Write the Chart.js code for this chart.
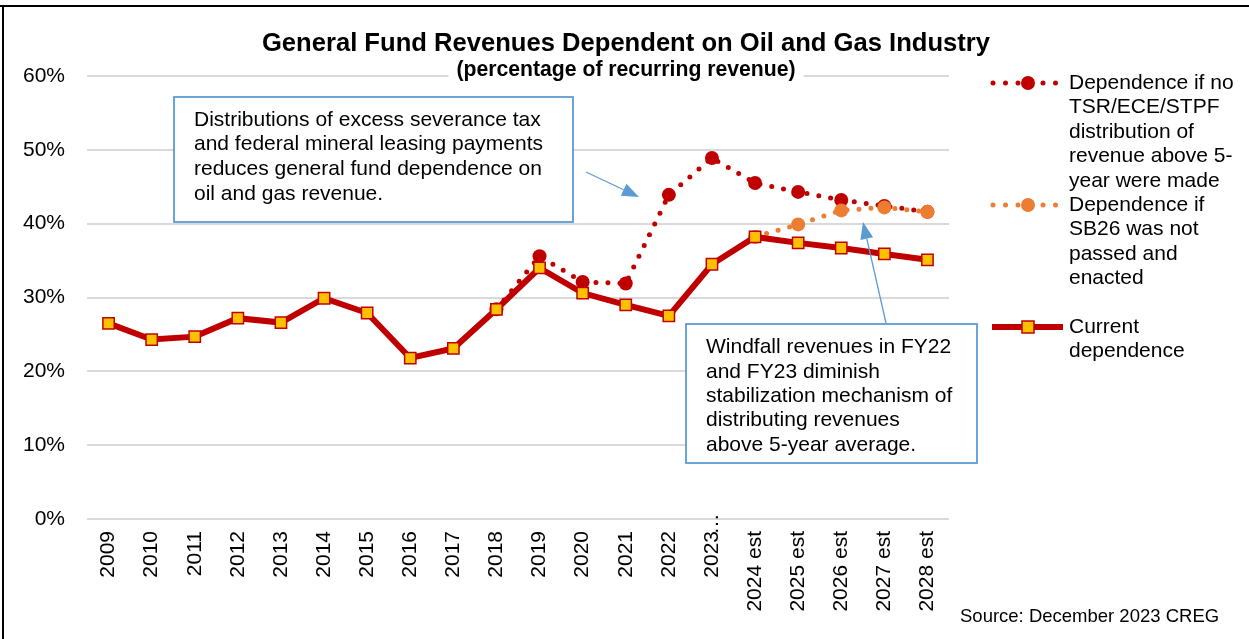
<!DOCTYPE html>
<html><head><meta charset="utf-8">
<script src="https://cdn.jsdelivr.net/npm/chart.js@4/dist/chart.umd.min.js"></script>
<style>html,body{margin:0;padding:0;background:#fff;}canvas{display:block;}</style>
</head><body>
<canvas id="c" width="1249" height="639"></canvas>
<script>
const categories = ['2009','2010','2011','2012','2013','2014','2015','2016','2017','2018','2019','2020','2021','2022','2023…','2024 est','2025 est','2026 est','2027 est','2028 est'];
const currentDependence = [26.5,24.3,24.7,27.2,26.6,29.9,27.9,21.8,23.1,28.4,34.0,30.6,29.0,27.5,34.5,38.2,37.4,36.7,35.9,35.1];
const noDistribution = [null,null,null,null,null,null,null,null,null,28.4,35.6,32.1,31.9,43.9,48.9,45.5,44.3,43.2,42.4,41.6];
const noSB26 = [null,null,null,null,null,null,null,null,null,null,null,null,null,null,null,38.2,39.9,41.8,42.2,41.6];
const yTickLabels = ['0%','10%','20%','30%','40%','50%','60%'];

const titleText = 'General Fund Revenues Dependent on Oil and Gas Industry';
const subtitleText = '(percentage of recurring revenue)';
const legendNoDist = ['Dependence if no','TSR/ECE/STPF','distribution of','revenue above 5-','year were made'];
const legendNoSB26 = ['Dependence if','SB26 was not','passed and','enacted'];
const legendCurrent = ['Current','dependence'];
const note1 = ['Distributions of excess severance tax','and federal mineral leasing payments','reduces general fund dependence on','oil and gas revenue.'];
const note2 = ['Windfall revenues in FY22','and FY23 diminish','stabilization mechanism of','distributing revenues','above 5-year average.'];
const sourceText = 'Source: December 2023 CREG';

const FONT = '"Liberation Sans", Arial, sans-serif';
const DARK = '#c00000', ORANGE = '#ed7d31', GOLD = '#ffc000', BLUE = '#5b9bd5';

function arrow(ctx, x1, y1, x2, y2) {
  const dx = x2 - x1, dy = y2 - y1, L = Math.hypot(dx, dy);
  const ux = dx / L, uy = dy / L, hl = 17, hw = 6.5;
  const bx = x2 - ux * hl, by = y2 - uy * hl;
  ctx.strokeStyle = BLUE; ctx.lineWidth = 1.3; ctx.setLineDash([]);
  ctx.beginPath(); ctx.moveTo(x1, y1); ctx.lineTo(bx, by); ctx.stroke();
  ctx.fillStyle = BLUE;
  ctx.beginPath(); ctx.moveTo(x2, y2);
  ctx.lineTo(bx - uy * hw, by + ux * hw); ctx.lineTo(bx + uy * hw, by - ux * hw);
  ctx.closePath(); ctx.fill();
}
function note(ctx, x, y, w, h, lines, tx, ty, lh) {
  ctx.fillStyle = '#fff'; ctx.fillRect(x, y, w, h);
  ctx.strokeStyle = BLUE; ctx.lineWidth = 1.8; ctx.setLineDash([]);
  ctx.strokeRect(x, y, w, h);
  ctx.fillStyle = '#000'; ctx.font = '21px ' + FONT; ctx.textAlign = 'left'; ctx.textBaseline = 'middle';
  lines.forEach((t, i) => ctx.fillText(t, tx, ty + i * lh));
}

const decor = {
  id: 'decor',
  afterDraw(chart) {
    const ctx = chart.ctx;
    ctx.save();
    ctx.fillStyle = '#000';
    ctx.fillRect(0, 5, 1249, 2);
    ctx.fillRect(2, 5, 2, 634);
    // title
    ctx.textAlign = 'center'; ctx.textBaseline = 'alphabetic';
    ctx.font = 'bold 25.6px ' + FONT;
    ctx.fillText(titleText, 626, 51);
    ctx.font = 'bold 21.2px ' + FONT;
    const sw = ctx.measureText(subtitleText).width;
    ctx.fillStyle = '#fff'; ctx.fillRect(626 - sw / 2 - 8, 62, sw + 16, 22);
    ctx.fillStyle = '#000'; ctx.fillText(subtitleText, 626, 76);
    // truncated-label ellipsis that overlaps the axis, as in the source
    const xs = chart.scales.x;
    categories.forEach((c, i) => {
      if (c.endsWith('…')) {
        const tx = xs.getPixelForValue(i);
        ctx.save();
        ctx.translate(tx, 524);
        ctx.rotate(-Math.PI / 2);
        ctx.font = '21px ' + FONT; ctx.textAlign = 'center'; ctx.textBaseline = 'middle';
        ctx.fillStyle = '#000';
        ctx.fillText('…', 0, 0);
        ctx.restore();
      }
    });
    // notes
    note(ctx, 174, 97, 399, 125, note1, 194, 120, 24.6);
    note(ctx, 686, 324, 291, 139, note2, 706, 347.5, 24.4);
    arrow(ctx, 586, 172, 639, 197);
    arrow(ctx, 886, 323, 863, 222);
    // legend
    ctx.lineCap = 'round';
    [[DARK, 83], [ORANGE, 205]].forEach(([col, y]) => {
      ctx.strokeStyle = col; ctx.lineWidth = 5; ctx.setLineDash([0, 12.5]);
      ctx.beginPath(); ctx.moveTo(993, y); ctx.lineTo(1058, y); ctx.stroke();
      ctx.setLineDash([]); ctx.fillStyle = col;
      ctx.beginPath(); ctx.arc(1028, y, 7, 0, Math.PI * 2); ctx.fill();
    });
    ctx.lineCap = 'butt';
    ctx.strokeStyle = DARK; ctx.lineWidth = 6; ctx.setLineDash([]);
    ctx.beginPath(); ctx.moveTo(992, 327); ctx.lineTo(1063, 327); ctx.stroke();
    ctx.fillStyle = GOLD; ctx.fillRect(1022, 321, 12, 12);
    ctx.strokeStyle = DARK; ctx.lineWidth = 1.5; ctx.strokeRect(1022, 321, 12, 12);
    ctx.fillStyle = '#000'; ctx.font = '21px ' + FONT; ctx.textAlign = 'left'; ctx.textBaseline = 'middle';
    legendNoDist.forEach((t, i) => ctx.fillText(t, 1069, 83 + i * 24.5));
    legendNoSB26.forEach((t, i) => ctx.fillText(t, 1069, 205 + i * 24.5));
    legendCurrent.forEach((t, i) => ctx.fillText(t, 1069, 327 + i * 24.5));
    // source
    ctx.font = '18.5px ' + FONT;
    ctx.fillText(sourceText, 960, 617);
    ctx.restore();
  }
};

new Chart(document.getElementById('c'), {
  type: 'line',
  data: {
    labels: categories,
    datasets: [
      { label: legendCurrent.join(' '), data: currentDependence, borderColor: DARK, borderWidth: 6,
        pointStyle: 'rect', pointRadius: 8, pointBackgroundColor: GOLD, pointBorderColor: DARK, pointBorderWidth: 1.5,
        tension: 0, order: 0 },
      { label: legendNoSB26.join(' '), data: noSB26, borderColor: ORANGE, borderWidth: 5, borderDash: [0, 12], borderCapStyle: 'round',
        pointRadius: 7, pointBackgroundColor: ORANGE, pointBorderColor: ORANGE, pointBorderWidth: 0, tension: 0, order: 1 },
      { label: legendNoDist.join(' '), data: noDistribution, borderColor: DARK, borderWidth: 5, borderDash: [0, 12], borderCapStyle: 'round',
        pointRadius: 7, pointBackgroundColor: DARK, pointBorderColor: DARK, pointBorderWidth: 0, tension: 0, order: 2 }
    ]
  },
  options: {
    responsive: false, animation: false, devicePixelRatio: 1,
    layout: { padding: { top: 76, right: 300, bottom: 0, left: 0 } },
    plugins: { legend: { display: false }, title: { display: false }, tooltip: { enabled: false } },
    scales: {
      x: {
        offset: true,
        grid: { display: false, drawTicks: false }, border: { display: false },
        ticks: { color: '#000', font: { size: 21, family: FONT }, minRotation: 90, maxRotation: 90, autoSkip: false, padding: 12,
          callback: function (v) { return this.getLabelForValue(v).replace('…', ''); } },
        afterFit(s) { s.height = 120; }
      },
      y: {
        min: 0, max: 60,
        ticks: { stepSize: 10, color: '#000', font: { size: 21, family: FONT }, padding: 22,
          callback: (v, i) => yTickLabels[i] },
        grid: { color: '#d9d9d9', lineWidth: 2, drawTicks: false }, border: { display: false },
        afterFit(s) { s.width = 87; }
      }
    }
  },
  plugins: [decor]
});
</script>
</body></html>
